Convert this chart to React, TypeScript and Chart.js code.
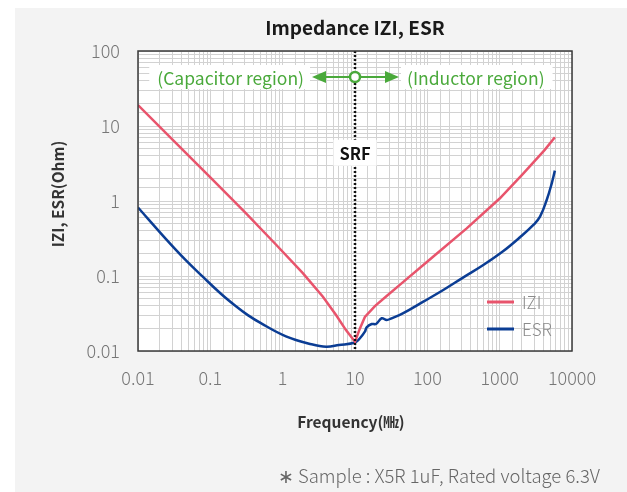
import React, { useEffect, useRef } from 'react';
import { Chart, registerables } from 'chart.js';

Chart.register(...registerables);

// ---- data ----
const freqZ = [0.01, 0.03, 0.1, 0.3, 0.8, 1.9, 3.6, 5.5, 7.5, 10, 11.7, 13.7, 19, 27.4, 42, 120, 350, 1000, 2100, 4200, 5800];
const impedanceZ = [19.0, 6.6, 2.06, 0.71, 0.265, 0.109, 0.053, 0.030, 0.019, 0.0133, 0.020, 0.0285, 0.040, 0.054, 0.0767, 0.181, 0.432, 1.08, 2.3, 4.8, 7.06];

const freqEsr = [0.01, 0.0244, 0.045, 0.0785, 0.14, 0.226, 0.33, 0.5, 1.11, 2.5, 4, 6, 10, 11.7, 13.7, 14.5, 17, 19.5, 23.4, 27.4, 32, 46.5, 88, 166, 315, 594, 1125, 1910, 2924, 3614, 4467, 5248, 5800];
const esr = [0.82, 0.31, 0.165, 0.098, 0.058, 0.0395, 0.0301, 0.0235, 0.0157, 0.0123, 0.0114, 0.012, 0.013, 0.0148, 0.0181, 0.0207, 0.0229, 0.0229, 0.0273, 0.0259, 0.0273, 0.032, 0.0455, 0.065, 0.096, 0.14, 0.215, 0.328, 0.479, 0.618, 1.03, 1.72, 2.54];

const xTickValues = [0.01, 0.1, 1, 10, 100, 1000, 10000];
const xTickLabels = ['0.01', '0.1', '1', '10', '100', '1000', '10000'];
const yTickValues = [0.01, 0.1, 1, 10, 100];
const yTickLabels = ['0.01', '0.1', '1', '10', '100'];

const seriesNames = ['IZI', 'ESR'];
const titleText = 'Impedance IZI, ESR';
const xTitle = 'Frequency(㎒)';
const yTitle = 'IZI, ESR(Ohm)';
const footnote = '∗ Sample : X5R 1uF, Rated voltage 6.3V';
const capLabel = '(Capacitor region)';
const indLabel = '(Inductor region)';
const srfLabel = 'SRF';

// annotation anchors (data coordinates)
const srfFreq = 10;
const regionRowValue = 45;
const srfLabelValue = 4.4;

const RED = '#e8546c';
const BLUE = '#0b3d94';
const GREEN = '#4aa93b';
const FONT = '"Noto Sans CJK KR", "Noto Sans", sans-serif';

function labelFor(v: number, vals: number[], labels: string[]) {
  for (let i = 0; i < vals.length; i++) {
    if (Math.abs(v - vals[i]) / vals[i] < 1e-6) return labels[i];
  }
  return '';
}

const overlay = {
  id: 'overlay',
  beforeDraw(chart: any) {
    const { ctx, chartArea: a } = chart;
    ctx.save();
    ctx.fillStyle = '#ffffff';
    ctx.fillRect(0, 0, chart.width, chart.height);
    ctx.fillStyle = '#f3f3f3';
    ctx.fillRect(15, 8, chart.width - 15, chart.height - 8);
    ctx.fillStyle = '#ffffff';
    ctx.fillRect(a.left, a.top, a.right - a.left, a.bottom - a.top);
    ctx.restore();
  },
  afterDraw(chart: any) {
    const { ctx, chartArea: a, scales } = chart;
    const xs = scales.x;
    const ys = scales.y;
    const sx = xs.getPixelForValue(srfFreq);
    ctx.save();

    // SRF dotted line
    ctx.strokeStyle = '#111';
    ctx.lineWidth = 2.5;
    ctx.setLineDash([2, 2]);
    ctx.beginPath();
    ctx.moveTo(sx, a.top);
    ctx.lineTo(sx, a.bottom);
    ctx.stroke();
    ctx.setLineDash([]);

    // frame
    ctx.strokeStyle = '#3a3a3a';
    ctx.lineWidth = 1.5;
    ctx.strokeRect(a.left, a.top, a.right - a.left, a.bottom - a.top);

    // SRF label
    const sy = ys.getPixelForValue(srfLabelValue);
    ctx.font = `bold 16.5px ${FONT}`;
    ctx.textAlign = 'center';
    ctx.textBaseline = 'middle';
    const sw = ctx.measureText(srfLabel).width;
    ctx.fillStyle = '#fff';
    ctx.fillRect(sx - sw / 2 - 6, sy - 13, sw + 12, 26);
    ctx.fillStyle = '#111';
    ctx.fillText(srfLabel, sx, sy + 1);

    // region row
    const ry = ys.getPixelForValue(regionRowValue);
    ctx.font = `17.5px ${FONT}`;
    const cw = ctx.measureText(capLabel).width;
    const iw = ctx.measureText(indLabel).width;
    ctx.fillStyle = '#fff';
    ctx.fillRect(sx - 51 - cw - 8, ry - 12, cw + 14, 24);
    ctx.fillRect(sx + 46, ry - 12, iw + 14, 24);
    ctx.fillStyle = GREEN;
    ctx.textAlign = 'right';
    ctx.fillText(capLabel, sx - 51, ry + 1);
    ctx.textAlign = 'left';
    ctx.fillText(indLabel, sx + 52, ry + 1);

    // arrows
    ctx.strokeStyle = GREEN;
    ctx.lineWidth = 2;
    ctx.beginPath();
    ctx.moveTo(sx - 32, ry);
    ctx.lineTo(sx + 32, ry);
    ctx.stroke();
    ctx.fillStyle = GREEN;
    ctx.beginPath();
    ctx.moveTo(sx - 43, ry);
    ctx.lineTo(sx - 29, ry - 6);
    ctx.lineTo(sx - 29, ry + 6);
    ctx.closePath();
    ctx.fill();
    ctx.beginPath();
    ctx.moveTo(sx + 44, ry);
    ctx.lineTo(sx + 30, ry - 6);
    ctx.lineTo(sx + 30, ry + 6);
    ctx.closePath();
    ctx.fill();
    ctx.beginPath();
    ctx.arc(sx, ry, 5, 0, Math.PI * 2);
    ctx.fillStyle = '#fff';
    ctx.fill();
    ctx.lineWidth = 2.5;
    ctx.stroke();

    // legend
    const colors = [RED, BLUE];
    ctx.font = `300 17px ${FONT}`;
    ctx.textAlign = 'left';
    for (let i = 0; i < seriesNames.length; i++) {
      const ly = 302 + i * 27;
      ctx.strokeStyle = colors[i];
      ctx.lineWidth = 3;
      ctx.beginPath();
      ctx.moveTo(487, ly);
      ctx.lineTo(514, ly);
      ctx.stroke();
      ctx.fillStyle = '#8a8a8a';
      ctx.fillText(seriesNames[i], 522, ly + 1);
    }

    // title
    const cx = (a.left + a.right) / 2;
    ctx.fillStyle = '#1a1a1a';
    ctx.font = `bold 19px ${FONT}`;
    ctx.textAlign = 'center';
    ctx.fillText(titleText, cx, 28);

    // axis titles
    ctx.fillStyle = '#333';
    ctx.font = `bold 15.5px ${FONT}`;
    ctx.fillText(xTitle, 351, 422);
    ctx.save();
    ctx.translate(58, 194);
    ctx.rotate(-Math.PI / 2);
    ctx.fillText(yTitle, 0, 0);
    ctx.restore();

    // footnote
    ctx.fillStyle = '#666';
    ctx.font = `300 18.5px ${FONT}`;
    ctx.textAlign = 'right';
    ctx.fillText(footnote, 600, 476);

    ctx.restore();
  },
};

export default function App() {
  const ref = useRef<HTMLCanvasElement | null>(null);
  useEffect(() => {
    if (!ref.current) return;
    const chart = new Chart(ref.current, {
      type: 'line',
      data: {
        datasets: [
          {
            label: seriesNames[0],
            data: freqZ.map((f, i) => ({ x: f, y: impedanceZ[i] })),
            borderColor: RED,
            borderWidth: 2.5,
            pointRadius: 0,
            tension: 0,
            fill: false,
          },
          {
            label: seriesNames[1],
            data: freqEsr.map((f, i) => ({ x: f, y: esr[i] })),
            borderColor: BLUE,
            borderWidth: 2.5,
            pointRadius: 0,
            tension: 0.4,
            fill: false,
          },
        ],
      },
      options: {
        animation: false,
        responsive: false,
        devicePixelRatio: 1,
        layout: { padding: { left: 0, top: 51, right: 55, bottom: 0 } },
        plugins: { legend: { display: false }, tooltip: { enabled: false }, title: { display: false } },
        scales: {
          x: {
            type: 'logarithmic',
            min: 0.01,
            max: 10000,
            afterFit: (s: any) => { s.height = 141; },
            border: { display: false },
            grid: { color: '#d2d2d2', lineWidth: 1, drawTicks: false },
            ticks: {
              autoSkip: false,
              maxRotation: 0,
              padding: 16,
              color: '#777',
              font: { family: FONT, size: 18, weight: '300' },
              callback: (v: any) => labelFor(Number(v), xTickValues, xTickLabels),
            },
          },
          y: {
            type: 'logarithmic',
            min: 0.01,
            max: 100,
            afterFit: (s: any) => { s.width = 138; },
            border: { display: false },
            grid: { color: '#d2d2d2', lineWidth: 1, drawTicks: false },
            ticks: {
              autoSkip: false,
              padding: 18,
              color: '#777',
              font: { family: FONT, size: 18, weight: '300' },
              callback: (v: any) => labelFor(Number(v), yTickValues, yTickLabels),
            },
          },
        },
      },
      plugins: [overlay],
    });
    return () => chart.destroy();
  }, []);
  return (
    <div style={{ position: 'absolute', left: 0, top: 0, width: 627, height: 492 }}>
      <canvas ref={ref} width={627} height={492} style={{ width: 627, height: 492, display: 'block' }} />
    </div>
  );
}
